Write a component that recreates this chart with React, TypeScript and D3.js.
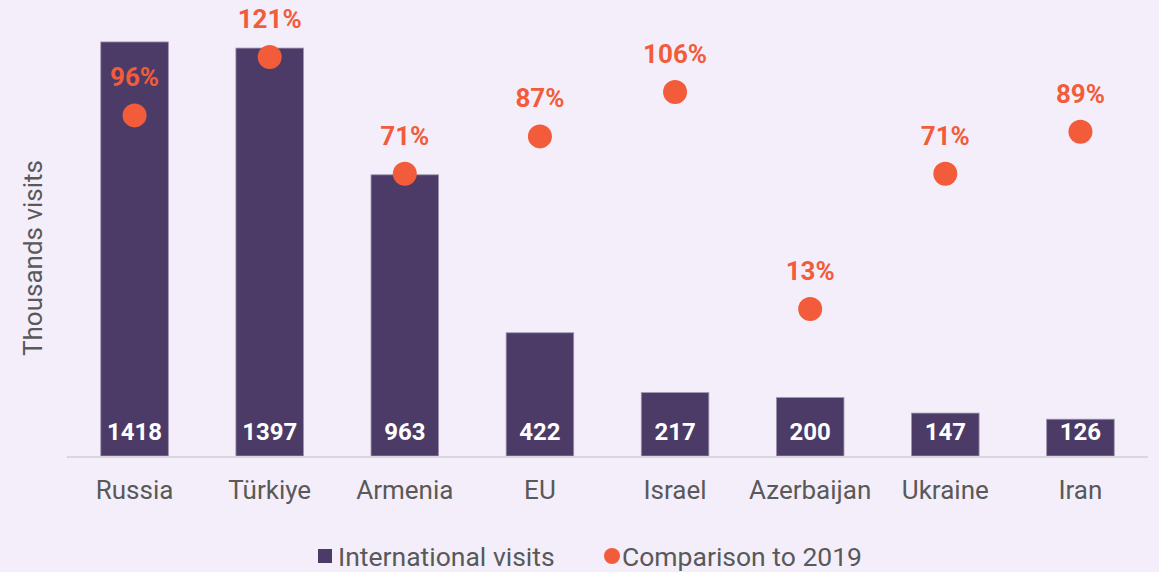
import React, { useEffect, useRef } from 'react';
import * as d3 from 'd3';

const categories = ['Russia', 'Türkiye', 'Armenia', 'EU', 'Israel', 'Azerbaijan', 'Ukraine', 'Iran'];
const visits = [1418, 1397, 963, 422, 217, 200, 147, 126];
const comparison = [96, 121, 71, 87, 106, 13, 71, 89];
const legendLabels = ['International visits', 'Comparison to 2019'];

const App = () => {
  const svgRef = useRef<SVGSVGElement>(null);
  const width = 1159;
  const height = 572;
  const margin = { top: 18, right: 11, bottom: 116, left: 67 }; // plot area

  useEffect(() => {
    document.body.style.margin = '0';
    const svg = d3.select(svgRef.current);
    svg.selectAll('*').remove();

    const barColor = '#4b3b66';
    const dotColor = '#f25c3a';
    const font = 'Roboto, sans-serif';
    const baseY = height - margin.bottom;

    svg.append('rect')
      .attr('width', width)
      .attr('height', height)
      .attr('fill', '#f4eefa');

    const x = d3.scaleBand()
      .domain(categories)
      .range([margin.left, width - margin.right])
      .paddingInner(0.5)
      .paddingOuter(0.25);

    // primary axis (thousands visits)
    const y = d3.scaleLinear()
      .domain([0, 1500])
      .range([baseY, baseY - 1500 * 0.292]);

    // secondary axis (% of 2019)
    const y2 = d3.scaleLinear()
      .domain([-50, 140])
      .range([baseY, baseY - 190 * 2.333]);

    // bars
    svg.append('g')
      .selectAll('rect')
      .data(visits)
      .join('rect')
      .attr('x', (d, i) => x(categories[i])!)
      .attr('y', d => y(d))
      .attr('width', x.bandwidth())
      .attr('height', d => baseY - y(d))
      .attr('fill', barColor)
      .attr('stroke', '#9d93b0')
      .attr('stroke-width', 0.8);

    // baseline
    svg.append('line')
      .attr('x1', margin.left)
      .attr('x2', width - margin.right)
      .attr('y1', baseY + 1)
      .attr('y2', baseY + 1)
      .attr('stroke', '#d9d6dc')
      .attr('stroke-width', 2);

    // bar value labels
    svg.append('g')
      .selectAll('text')
      .data(visits)
      .join('text')
      .attr('x', (d, i) => x(categories[i])! + x.bandwidth() / 2)
      .attr('y', baseY - 16)
      .attr('text-anchor', 'middle')
      .attr('font-family', font)
      .attr('font-weight', 'bold')
      .attr('font-size', 24)
      .attr('fill', '#ffffff')
      .text(d => d);

    // category axis labels
    svg.append('g')
      .selectAll('text')
      .data(categories)
      .join('text')
      .attr('x', d => x(d)! + x.bandwidth() / 2)
      .attr('y', baseY + 43)
      .attr('text-anchor', 'middle')
      .attr('font-family', font)
      .attr('font-size', 26)
      .attr('fill', '#595959')
      .text(d => d);

    // dots
    svg.append('g')
      .selectAll('circle')
      .data(comparison)
      .join('circle')
      .attr('cx', (d, i) => x(categories[i])! + x.bandwidth() / 2)
      .attr('cy', d => y2(d))
      .attr('r', 12)
      .attr('fill', dotColor);

    // dot labels
    svg.append('g')
      .selectAll('text')
      .data(comparison)
      .join('text')
      .attr('x', (d, i) => x(categories[i])! + x.bandwidth() / 2)
      .attr('y', d => y2(d) - 29)
      .attr('text-anchor', 'middle')
      .attr('font-family', font)
      .attr('font-weight', 'bold')
      .attr('font-size', 26)
      .attr('fill', dotColor)
      .text(d => d + '%');

    // y-axis title
    svg.append('text')
      .attr('transform', `translate(42, 258) rotate(-90)`)
      .attr('text-anchor', 'middle')
      .attr('font-family', font)
      .attr('font-size', 26)
      .attr('fill', '#595959')
      .text('Thousands visits');

    // legend
    const lg = svg.append('g').attr('font-family', font).attr('font-size', 26.5).attr('fill', '#595959');
    lg.append('rect').attr('x', 318).attr('y', 549).attr('width', 14).attr('height', 14).attr('fill', barColor);
    lg.append('text').attr('x', 338).attr('y', 566).text(legendLabels[0]);
    lg.append('circle').attr('cx', 612).attr('cy', 556).attr('r', 8).attr('fill', dotColor);
    lg.append('text').attr('x', 622).attr('y', 566).text(legendLabels[1]);
  }, []);

  return (
    <div style={{ position: 'absolute', left: 0, top: 0 }}>
      <svg ref={svgRef} width={width} height={height} style={{ display: 'block' }} />
    </div>
  );
};

export default App;
